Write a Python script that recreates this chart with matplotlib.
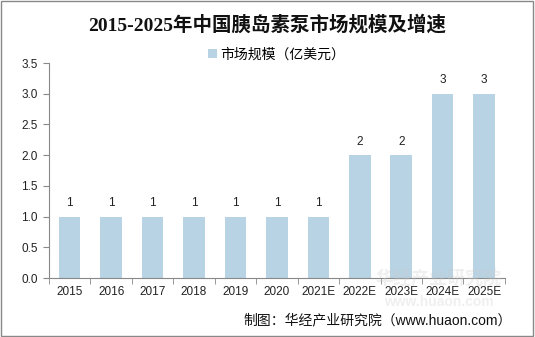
import matplotlib.pyplot as plt
from matplotlib.patches import Rectangle
import numpy as np

plt.rcParams['font.family'] = ['Liberation Sans', 'Noto Sans CJK SC']

years = ['2015', '2016', '2017', '2018', '2019', '2020', '2021E', '2022E', '2023E', '2024E', '2025E']
market_size = [1, 1, 1, 1, 1, 1, 1, 2, 2, 3, 3]

fig = plt.figure(figsize=(5.35, 3.37), dpi=100)
ax = fig.add_axes([0.0916, 0.175, 0.852, 0.638])

x = np.arange(len(years))
ax.bar(x, market_size, width=0.52, color='#b7d3e4', label='市场规模（亿美元）', zorder=2)

for xi, v in zip(x, market_size):
    ax.text(xi, v + 0.12, f'{v}', ha='center', va='bottom', fontsize=8.5, color='#222222')

yt = np.arange(0, 3.51, 0.5)
ax.set_xlim(-0.5, len(years) - 0.5)
ax.set_ylim(0, 3.5)
ax.set_yticks(yt)
ax.set_yticklabels([f'{t:.1f}' for t in yt], fontsize=8.5, color='#222222')
ax.set_xticks(x)
ax.set_xticklabels(years, fontsize=8.5, color='#222222')
ax.tick_params(axis='x', length=0, pad=6)
ax.set_xticks(np.arange(-0.5, len(years)), minor=True)
ax.tick_params(axis='x', which='minor', length=4, color='#888888')
ax.tick_params(axis='y', length=4, color='#888888', pad=4)

for side in ['top', 'right']:
    ax.spines[side].set_visible(False)
for side in ['left', 'bottom']:
    ax.spines[side].set_color('#888888')
    ax.spines[side].set_linewidth(0.8)

ax.legend(loc='upper center', bbox_to_anchor=(0.5, 1.13), frameon=False, fontsize=10,
          handlelength=0.6, handleheight=0.6, handletextpad=0.3)

fig.text(0.5, 0.926, '2015-2025年中国胰岛素泵市场规模及增速', ha='center', va='center',
         fontsize=14, fontweight='bold', color='#111111',
         family=['Liberation Serif', 'Noto Sans CJK SC'])
fig.text(0.957, 0.048, '制图：华经产业研究院（www.huaon.com）', ha='right', va='center',
         fontsize=10, color='#111111')

# faint watermark
fig.text(0.82, 0.17, '华经产业研究院', ha='center', va='center', fontsize=13,
         color='#cccccc', alpha=0.3, fontweight='bold')
fig.text(0.82, 0.105, 'www.huaon.com', ha='center', va='center', fontsize=10,
         color='#cccccc', alpha=0.3, fontweight='bold')

fig.patches.append(Rectangle((0.002, 0.003), 0.995, 0.994, transform=fig.transFigure,
                             fill=False, edgecolor='#888888', linewidth=1))

fig.savefig('out.png', dpi=100)
